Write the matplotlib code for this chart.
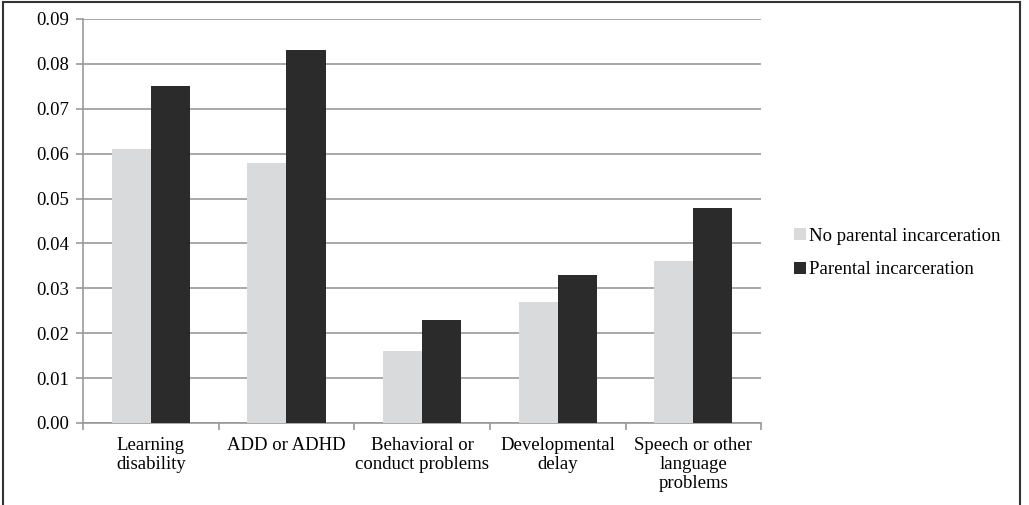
import numpy as np
import matplotlib.pyplot as plt
from matplotlib.lines import Line2D

plt.rcParams['font.family'] = ['Liberation Serif', 'DejaVu Serif']
plt.rcParams['font.size'] = 13.5

categories = ['Learning\ndisability', 'ADD or ADHD', 'Behavioral or\nconduct problems',
              'Developmental\ndelay', 'Speech or other\nlanguage\nproblems']
no_parental = [0.061, 0.058, 0.016, 0.027, 0.036]
parental = [0.075, 0.083, 0.023, 0.033, 0.048]

fig = plt.figure(figsize=(10.29, 5.05), dpi=100)
ax = fig.add_axes([0.0807, 0.1624, 0.659, 0.8])

x = np.arange(len(categories))
w = 0.288
ax.bar(x - w / 2, no_parental, w, color='#d9dadb', label='No parental incarceration', zorder=3)
ax.bar(x + w / 2, parental, w, color='#2b2b2b', label='Parental incarceration', zorder=3)

ax.set_xlim(-0.5, len(categories) - 0.5)
ax.set_ylim(0, 0.09)
ax.set_yticks(np.arange(0, 0.0901, 0.01))
ax.set_yticklabels([f'{v:.2f}' for v in np.arange(0, 0.0901, 0.01)])
ax.yaxis.grid(True, color='#999999', linewidth=1.2, zorder=0)

ax.set_xticks(x)
ax.set_xticklabels(categories, linespacing=1.15)
ax.set_xticks(np.arange(-0.5, len(categories)), minor=True)
ax.tick_params(axis='x', which='major', length=0, pad=10)
ax.tick_params(axis='x', which='minor', length=5, color='#999999', width=1.2)
ax.tick_params(axis='y', length=5, color='#999999', width=1.2, pad=5)

for s in ['top', 'right']:
    ax.spines[s].set_visible(False)
for s in ['left', 'bottom']:
    ax.spines[s].set_color('#999999')
    ax.spines[s].set_linewidth(1.2)

fig.legend(loc='center left', bbox_to_anchor=(0.755, 0.499), frameon=False,
           handlelength=0.65, handleheight=0.65, handletextpad=0.15, labelspacing=0.9,
           fontsize=13.5)

# border around the figure (bottom edge cut off)
fig.add_artist(Line2D([0.003, 0.003], [0, 0.996], color='#333333', linewidth=1.5))
fig.add_artist(Line2D([0.003, 0.991], [0.996, 0.996], color='#333333', linewidth=1.5))
fig.add_artist(Line2D([0.991, 0.991], [0, 0.996], color='#333333', linewidth=1.5))

fig.savefig('out.png', dpi=100)
